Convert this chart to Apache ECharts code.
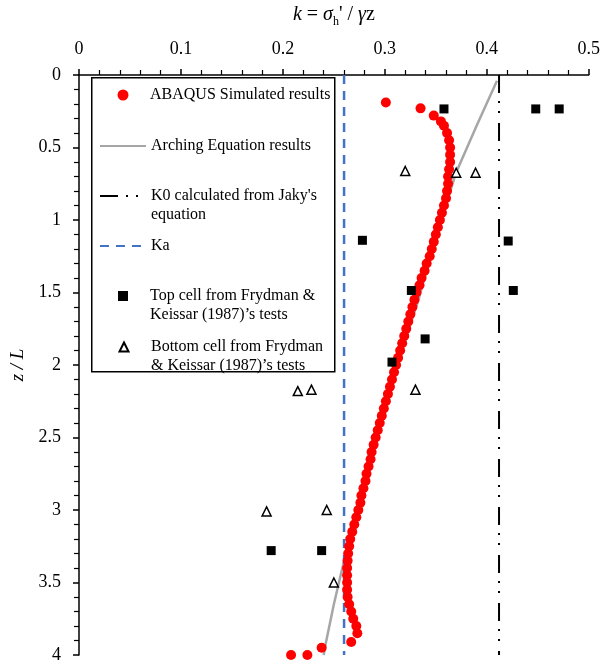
<!DOCTYPE html>
<html>
<head>
<meta charset="utf-8">
<script src="https://cdn.jsdelivr.net/npm/echarts@6/dist/echarts.min.js"></script>
<style>html,body{margin:0;padding:0;background:#fff;}#c{width:603px;height:664px;}</style>
</head>
<body>
<div id="c"></div>
<script>
// ABAQUS simulated results: k values and depth z/L
const abaqusK = [0.301,0.335,0.348,0.355,0.358,0.361,0.363,0.364,0.364,0.364,0.363,0.362,0.362,0.361,0.360,0.358,0.356,0.354,0.352,0.350,0.348,0.346,0.344,0.341,0.339,0.336,0.334,0.331,0.329,0.327,0.325,0.323,0.321,0.319,0.317,0.315,0.313,0.311,0.309,0.307,0.305,0.303,0.301,0.299,0.297,0.295,0.293,0.291,0.289,0.287,0.286,0.284,0.282,0.281,0.279,0.277,0.276,0.274,0.272,0.270,0.268,0.266,0.265,0.264,0.2635,0.263,0.263,0.263,0.263,0.2635,0.265,0.267,0.269,0.272,0.273,0.267,0.238,0.224,0.208];
const abaqusZ = [0.19,0.23,0.28,0.32,0.35,0.40,0.45,0.50,0.55,0.60,0.65,0.70,0.75,0.80,0.85,0.90,0.95,1.00,1.05,1.10,1.15,1.20,1.25,1.30,1.35,1.40,1.45,1.50,1.55,1.60,1.65,1.70,1.75,1.80,1.85,1.90,1.95,2.00,2.05,2.10,2.15,2.20,2.25,2.30,2.35,2.40,2.45,2.50,2.55,2.60,2.65,2.70,2.75,2.80,2.85,2.90,2.95,3.00,3.05,3.10,3.15,3.20,3.25,3.30,3.35,3.40,3.45,3.50,3.55,3.60,3.65,3.70,3.75,3.80,3.85,3.91,3.95,4.00,4.00];
// Arching equation results
const archK = [0.410,0.390,0.3695,0.358,0.345,0.333,0.312,0.292,0.274,0.260,0.250,0.242,0.240];
const archZ = [0.04,0.35,0.68,0.94,1.25,1.55,2.00,2.50,3.00,3.35,3.65,3.92,4.00];
// K0 (Jaky) and Ka constants
const k0Value = 0.412;
const kaValue = 0.26;
const depthRange = [0, 4];
// Frydman & Keissar (1987) top cell
const topK = [0.358,0.448,0.471,0.278,0.421,0.326,0.426,0.3395,0.307,0.1885,0.238];
const topZ = [0.234,0.234,0.234,1.14,1.145,1.486,1.486,1.82,1.98,3.28,3.28];
// Frydman & Keissar (1987) bottom cell
const botK = [0.320,0.370,0.389,0.2146,0.228,0.330,0.184,0.243,0.250];
const botZ = [0.662,0.674,0.674,2.18,2.17,2.17,3.01,3.00,3.50];

const names = {
  abaqus: 'ABAQUS Simulated results',
  arch: 'Arching Equation results',
  k0: "K0 calculated from Jaky's equation",
  ka: 'Ka',
  top: 'Top cell from Frydman & Keissar (1987)\u2019s tests',
  bot: 'Bottom cell from Frydman & Keissar (1987)\u2019s tests'
};
const legendText = {};
legendText[names.k0] = "\nK0 calculated from Jaky's\nequation";
legendText[names.top] = '\nTop cell from Frydman &\nKeissar (1987)\u2019s tests';
legendText[names.bot] = '\nBottom cell from Frydman\n& Keissar (1987)\u2019s tests';

const FF = '"Liberation Serif", "Times New Roman", serif';
const zip = (a, b) => a.map((v, i) => [v, b[i]]);

function mkLegend(name, cy, multi, isLine, iconSize) {
  const lg = {
    data: [name], top: multi ? cy - 28.5 : cy - 9.5,
    orient: 'vertical', itemHeight: 10, padding: 0,
    selectedMode: false, z: 10,
    textStyle: {fontFamily: FF, fontSize: 16, lineHeight: 19, color: '#000'},
    formatter: n => legendText[n] || n
  };
  if (isLine) {
    lg.left = 99; lg.itemWidth = 46;
    lg.itemStyle = {opacity: 0, color: 'transparent', borderWidth: 0};
  } else {
    lg.itemWidth = iconSize; lg.itemHeight = iconSize;
    lg.left = 123 - iconSize / 2;
    lg.textStyle.padding = [0, 0, 0, 150 - (123 + iconSize / 2 + 5)];
  }
  return lg;
}

const chart = echarts.init(document.getElementById('c'), null, {renderer: 'canvas'});
chart.setOption({
  animation: false,
  backgroundColor: '#fff',
  grid: {left: 79, right: 13, top: 69, bottom: 9},
  xAxis: {
    type: 'value', position: 'top', min: 0, max: 0.5, interval: 0.1,
    name: '{i|k} = {i|\u03c3}{s|h}\' / {i|\u03b3}z',
    nameLocation: 'middle', nameGap: 50,
    nameTextStyle: {fontFamily: FF, fontSize: 20, color: '#000',
      rich: {i: {fontFamily: FF, fontSize: 20, fontStyle: 'italic', color: '#000'},
             s: {fontFamily: FF, fontSize: 12, color: '#000', verticalAlign: 'bottom', padding: [0, 0, -3, 0]}}},
    axisLine: {show: true, lineStyle: {color: '#000', width: 1.5}},
    axisTick: {show: true, length: 6, lineStyle: {color: '#000', width: 1.5}},
    minorTick: {show: true, splitNumber: 5, length: 5, lineStyle: {color: '#000', width: 1.2}},
    splitLine: {show: false},
    axisLabel: {fontFamily: FF, fontSize: 18, color: '#000', margin: 17}
  },
  yAxis: {
    type: 'value', inverse: true, min: 0, max: 4, interval: 0.5,
    name: 'z / L', nameLocation: 'middle', nameGap: 52, nameRotate: 90,
    nameMoveOverlap: false,
    nameTextStyle: {fontFamily: FF, fontSize: 19, fontStyle: 'italic', color: '#000'},
    axisLine: {show: true, lineStyle: {color: '#000', width: 1.5}},
    axisTick: {show: true, length: 6, lineStyle: {color: '#000', width: 1.5}},
    minorTick: {show: true, splitNumber: 5, length: 5, lineStyle: {color: '#000', width: 1.2}},
    splitLine: {show: false},
    axisLabel: {fontFamily: FF, fontSize: 18, color: '#000', margin: 18}
  },
  legend: [
    mkLegend(names.abaqus, 95, false, false, 11),
    mkLegend(names.arch, 146, false, true),
    mkLegend(names.k0, 196, true, true),
    mkLegend(names.ka, 246, false, true),
    mkLegend(names.top, 296, true, false, 10),
    mkLegend(names.bot, 347, true, false, 9)
  ],
  graphic: [{
    type: 'rect', z: 5, left: 91, top: 77,
    shape: {width: 243, height: 294},
    style: {fill: '#fff', stroke: '#000', lineWidth: 1.5}
  }],
  series: [
    {name: names.arch, type: 'line', symbol: 'none', z: 2, data: zip(archK, archZ),
     lineStyle: {color: '#A6A6A6', width: 2.5}, itemStyle: {color: '#A6A6A6'}},
    {name: names.k0, type: 'line', symbol: 'none', z: 2,
     data: depthRange.map(z => [k0Value, z]),
     lineStyle: {color: '#000', width: 2, type: [18, 8, 2, 8, 2, 10]}, itemStyle: {color: '#000'}},
    {name: names.ka, type: 'line', symbol: 'none', z: 2,
     data: depthRange.map(z => [kaValue, z]),
     lineStyle: {color: '#4472C4', width: 2.5, type: [9, 7]}, itemStyle: {color: '#4472C4'}},
    {name: names.abaqus, type: 'scatter', symbol: 'circle', symbolSize: 10, clip: false, z: 3,
     data: zip(abaqusK, abaqusZ), itemStyle: {color: '#FF0000', opacity: 1}},
    {name: names.top, type: 'scatter', symbol: 'rect', symbolSize: 9, clip: false, z: 4,
     data: zip(topK, topZ), itemStyle: {color: '#000', opacity: 1}},
    {name: names.bot, type: 'scatter', symbol: 'triangle', symbolSize: 9, clip: false, z: 4,
     data: zip(botK, botZ), itemStyle: {color: '#fff', borderColor: '#000', borderWidth: 1.5, opacity: 1}}
  ]
});
</script>
</body>
</html>
